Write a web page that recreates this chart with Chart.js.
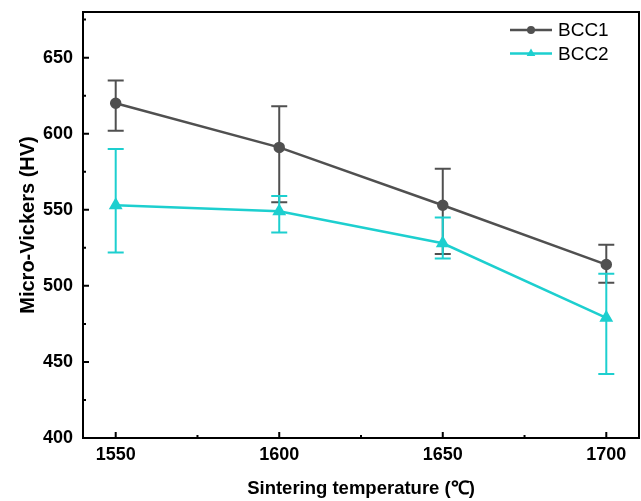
<!DOCTYPE html>
<html>
<head>
<meta charset="utf-8">
<script src="https://cdn.jsdelivr.net/npm/chart.js@4.4.0/dist/chart.umd.min.js"></script>
<style>
  html, body { margin: 0; padding: 0; background: #fff; }
</style>
</head>
<body>
<canvas id="myChart" width="641" height="501"></canvas>
<script>
// data
const temperatures = [1550, 1600, 1650, 1700];
const bcc1 = [620, 591, 553, 514];
const bcc1Upper = [635, 618, 577, 527];
const bcc1Lower = [602, 555, 521, 502];
const bcc2 = [553, 549, 528, 479];
const bcc2Upper = [590, 559, 545, 508];
const bcc2Lower = [522, 535, 518, 442];
const xTicks = [1550, 1600, 1650, 1700];
const xMinorTicks = [1575, 1625, 1675];
const yTicks = [400, 450, 500, 550, 600, 650];
const yMinorTicks = [425, 475, 525, 575, 625, 675];

const grey = '#505050';
const cyan = '#1dcfcf';
const fontFamily = '"Liberation Sans", Arial, sans-serif';

const errors = [
    { upper: bcc1Upper, lower: bcc1Lower },
    { upper: bcc2Upper, lower: bcc2Lower }
];

const framePlugin = {
    id: 'frame',
    beforeDatasetsDraw(chart) {
        const ctx = chart.ctx;
        const x = chart.scales.x, y = chart.scales.y;
        ctx.save();
        chart.data.datasets.forEach((ds, i) => {
            ctx.strokeStyle = ds.borderColor;
            ctx.lineWidth = 2;
            temperatures.forEach((t, j) => {
                const px = x.getPixelForValue(t);
                const top = y.getPixelForValue(errors[i].upper[j]);
                const bot = y.getPixelForValue(errors[i].lower[j]);
                ctx.beginPath();
                ctx.moveTo(px, top); ctx.lineTo(px, bot);
                ctx.moveTo(px - 8, top); ctx.lineTo(px + 8, top);
                ctx.moveTo(px - 8, bot); ctx.lineTo(px + 8, bot);
                ctx.stroke();
            });
        });
        ctx.restore();
    },
    afterDraw(chart) {
        const ctx = chart.ctx;
        const a = chart.chartArea;
        const x = chart.scales.x, y = chart.scales.y;
        ctx.save();
        ctx.strokeStyle = '#000';
        ctx.lineWidth = 2;
        ctx.strokeRect(a.left, a.top, a.right - a.left, a.bottom - a.top);
        ctx.beginPath();
        xTicks.forEach(v => { const p = x.getPixelForValue(v); ctx.moveTo(p, a.bottom); ctx.lineTo(p, a.bottom - 6); });
        xMinorTicks.forEach(v => { const p = x.getPixelForValue(v); ctx.moveTo(p, a.bottom); ctx.lineTo(p, a.bottom - 3); });
        yTicks.forEach(v => { const p = y.getPixelForValue(v); ctx.moveTo(a.left, p); ctx.lineTo(a.left + 6, p); });
        yMinorTicks.forEach(v => { const p = y.getPixelForValue(v); ctx.moveTo(a.left, p); ctx.lineTo(a.left + 3, p); });
        ctx.stroke();

        // legend
        chart.data.datasets.forEach((ds, i) => {
            const ly = 30 + i * 23.5;
            ctx.strokeStyle = ds.borderColor;
            ctx.lineWidth = 2.5;
            ctx.beginPath();
            ctx.moveTo(510, ly); ctx.lineTo(552, ly);
            ctx.stroke();
            ctx.fillStyle = ds.pointBackgroundColor;
            Chart.helpers.drawPoint(ctx, {
                pointStyle: ds.pointStyle, radius: ds.pointRadius - 0.5, rotation: 0, borderWidth: 0
            }, 531, ly);
            ctx.fillStyle = '#000';
            ctx.font = '19px ' + fontFamily;
            ctx.textBaseline = 'middle';
            ctx.fillText(ds.label, 558, ly + 1);
        });
        ctx.restore();
    }
};

new Chart(document.getElementById('myChart').getContext('2d'), {
    type: 'line',
    data: {
        datasets: [
            {
                label: 'BCC1',
                data: temperatures.map((t, i) => ({ x: t, y: bcc1[i] })),
                borderColor: grey,
                backgroundColor: grey,
                pointBackgroundColor: grey,
                pointBorderColor: grey,
                pointStyle: 'circle',
                pointRadius: 4.5,
                borderWidth: 2.5,
                fill: false
            },
            {
                label: 'BCC2',
                data: temperatures.map((t, i) => ({ x: t, y: bcc2[i] })),
                borderColor: cyan,
                backgroundColor: cyan,
                pointBackgroundColor: cyan,
                pointBorderColor: cyan,
                pointStyle: 'triangle',
                pointRadius: 5.5,
                borderWidth: 2.5,
                fill: false
            }
        ]
    },
    options: {
        responsive: false,
        animation: false,
        layout: { autoPadding: false, padding: { top: 12, right: 2, left: 0, bottom: 0 } },
        plugins: { legend: { display: false }, tooltip: { enabled: false } },
        scales: {
            x: {
                type: 'linear',
                min: 1540,
                max: 1710,
                afterBuildTicks: s => { s.ticks = xTicks.map(v => ({ value: v })); },
                afterFit: s => { s.height = 63; s.paddingLeft = 0; s.paddingRight = 0; },
                grid: { display: false, drawTicks: false },
                border: { display: false },
                ticks: {
                    padding: 6,
                    color: '#000',
                    callback: v => String(v),
                    font: { family: fontFamily, size: 18, weight: 'bold' }
                },
                title: {
                    display: true,
                    text: 'Sintering temperature (℃)',
                    color: '#000',
                    padding: { top: 0, bottom: 1 },
                    font: { family: fontFamily, size: 18.5, weight: 'bold' }
                }
            },
            y: {
                min: 400,
                max: 680,
                afterBuildTicks: s => { s.ticks = yTicks.map(v => ({ value: v })); },
                afterFit: s => { s.width = 83; s.paddingTop = 0; s.paddingBottom = 0; },
                grid: { display: false, drawTicks: false },
                border: { display: false },
                ticks: {
                    padding: 10,
                    color: '#000',
                    font: { family: fontFamily, size: 18, weight: 'bold' }
                },
                title: {
                    display: true,
                    text: 'Micro-Vickers (HV)',
                    color: '#000',
                    padding: { top: 16, bottom: 0 },
                    font: { family: fontFamily, size: 20, weight: 'bold' }
                }
            }
        }
    },
    plugins: [framePlugin]
});
</script>
</body>
</html>
